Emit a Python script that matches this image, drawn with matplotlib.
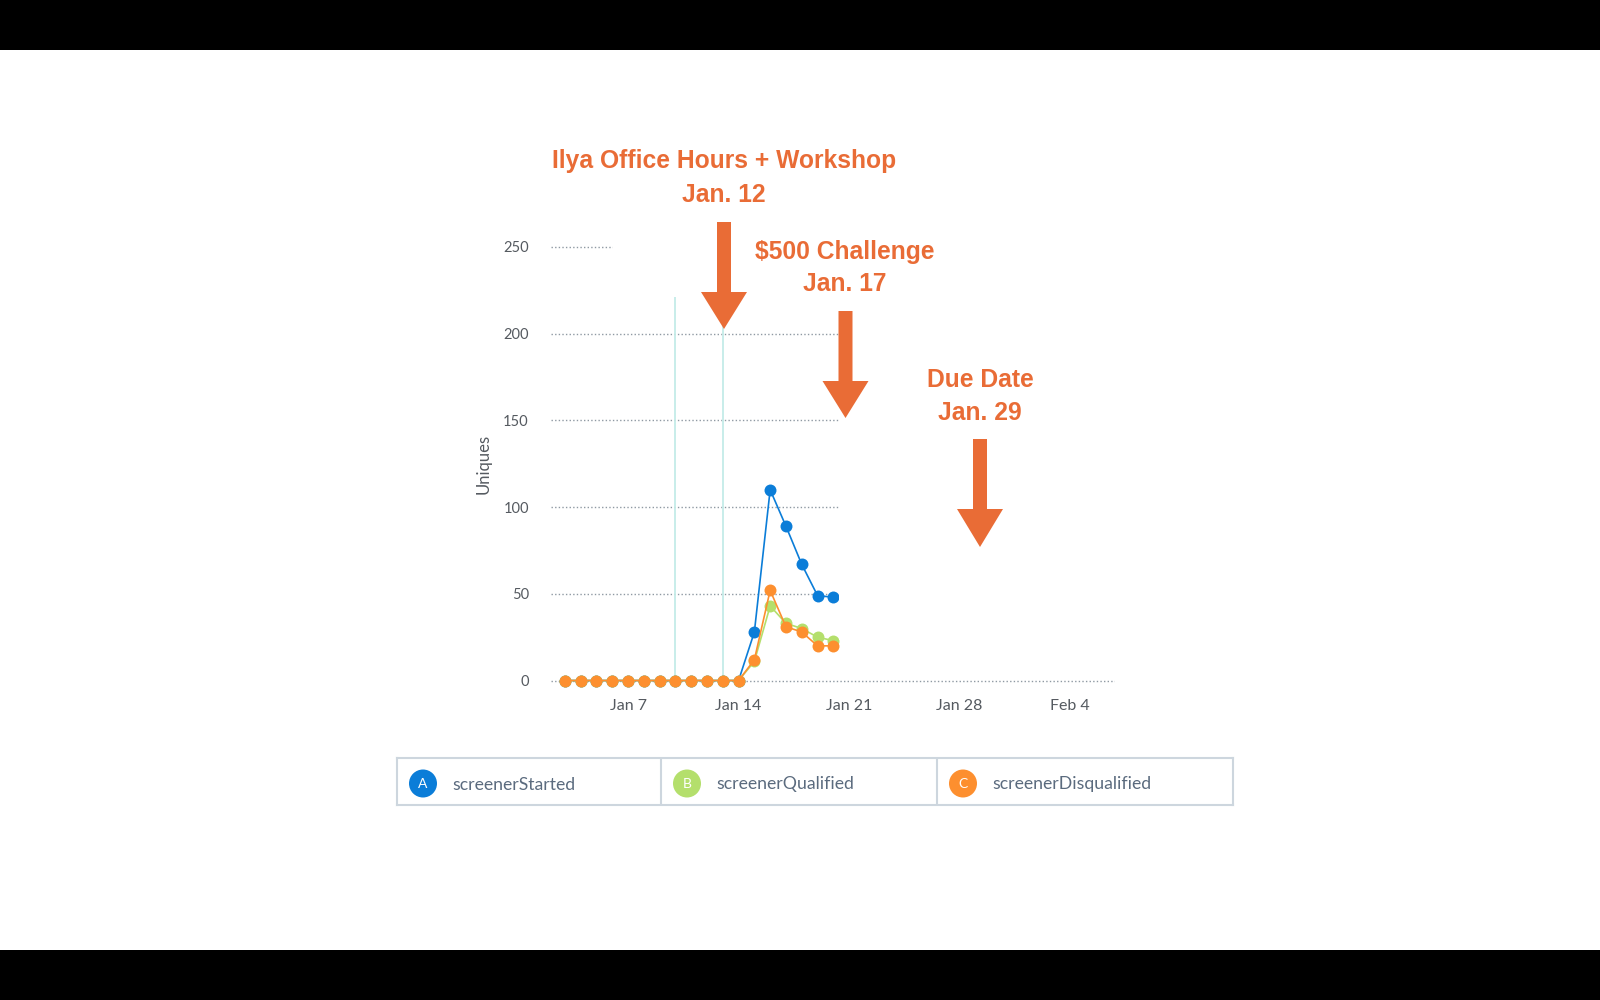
import matplotlib
matplotlib.use("Agg")
import matplotlib.pyplot as plt
from matplotlib.patches import Rectangle, Polygon, Circle

###############################################################################
# DATA
###############################################################################

# day of January for every point (Jan 3 .. Jan 20)
days = [3, 4, 5, 6, 7, 8, 9, 10, 11, 12, 13, 14, 15, 16, 17, 18, 19, 20]

screener_started = [0, 0, 0, 0, 0, 0, 0, 0, 0, 0, 0, 0, 28, 110, 89, 67, 49, 48]
screener_qualified = [0, 0, 0, 0, 0, 0, 0, 0, 0, 0, 0, 0, 11, 43, 33, 30, 25, 23]
screener_disqualified = [0, 0, 0, 0, 0, 0, 0, 0, 0, 0, 0, 0, 12, 52, 31, 28, 20, 20]

series_names = ["screenerStarted", "screenerQualified", "screenerDisqualified"]
series_letters = ["A", "B", "C"]
series_colors = ["#0b7dd8", "#b4df6c", "#fd8f2f"]

event_days = [10, 13]

x_ticks = [7, 14, 21, 28, 35]
x_tick_labels = ["Jan 7", "Jan 14", "Jan 21", "Jan 28", "Feb 4"]
y_ticks = [0, 50, 100, 150, 200, 250]

# callouts: (lines of text, text centre x, text baselines, arrow)
callouts = [
    (["Ilya Office Hours + Workshop", "Jan. 12"], 724, [168, 202],
     dict(x=724, top=222, neck=292, tip=329)),
    (["$500 Challenge", "Jan. 17"], 845, [259, 291],
     dict(x=845.5, top=311, neck=381, tip=418)),
    (["Due Date", "Jan. 29"], 980, [387, 420],
     dict(x=980, top=439, neck=509, tip=547)),
]

ORANGE = "#e96c36"
TICK_COLOR = "#555a60"
GRID_COLOR = "#8f99a3"

###############################################################################
# FIGURE
###############################################################################

fig = plt.figure(figsize=(16, 10), dpi=100)
fig.patch.set_facecolor("white")

# axes box: 1.734 px per unit, 0 at y=680.5 px, small margin so the 0 line is not clipped
ax = fig.add_axes([551 / 1600, 1 - 684 / 1000, 564 / 1600, 440.5 / 1000])
ax.set_xlim(2.12, 37.84)
ax.set_ylim(-2, 252)

for d in event_days:
    ax.axvline(d, ymin=2 / 254, color="#c4ece8", lw=1.3, zorder=1)

ax.set_yticks(y_ticks)
ax.yaxis.grid(True, color=GRID_COLOR, lw=1.0, linestyle=(0, (1, 1.6)))
ax.set_axisbelow(True)
for s in ax.spines.values():
    s.set_visible(False)
ax.tick_params(length=0)
ax.tick_params(axis="y", pad=16, labelsize=10.5, labelcolor=TICK_COLOR)
ax.tick_params(axis="x", pad=11, labelsize=11.5, labelcolor=TICK_COLOR)
ax.set_xticks(x_ticks)
ax.set_xticklabels(x_tick_labels)
for lab in ax.get_xticklabels() + ax.get_yticklabels():
    lab.set_family("Lato")

ax.set_ylabel("Uniques", family="Lato", fontsize=12, color=TICK_COLOR)
ax.yaxis.set_label_coords(-0.105, 0.5)

for vals, col in zip([screener_started, screener_qualified, screener_disqualified],
                     series_colors):
    ax.plot(days, vals, color=col, lw=1.2, marker="o", markersize=8.6,
            markeredgewidth=0, clip_on=False, zorder=3)

###############################################################################
# OVERLAY (pixel coordinates)
###############################################################################

ov = fig.add_axes([0, 0, 1, 1], zorder=5)
ov.set_xlim(0, 1600)
ov.set_ylim(1000, 0)
ov.axis("off")
ov.patch.set_alpha(0)

# black letterbox bands
ov.add_patch(Rectangle((0, 0), 1600, 50, color="black", lw=0))
ov.add_patch(Rectangle((0, 950), 1600, 50, color="black", lw=0))

# white backgrounds of the pasted callouts
ov.add_patch(Rectangle((613, 50), 227, 247, color="white", lw=0))
ov.add_patch(Rectangle((839, 50), 360, 590, color="white", lw=0))

for lines, tx, baselines, arr in callouts:
    for txt, by in zip(lines, baselines):
        ov.text(tx, by, txt, ha="center", va="baseline", color=ORANGE,
                fontsize=17.7, fontweight="bold", family="Liberation Sans")
    x, top, neck, tip = arr["x"], arr["top"], arr["neck"], arr["tip"]
    sw, hw = 7, 23
    ov.add_patch(Polygon([(x - sw, top), (x + sw, top), (x + sw, neck),
                          (x + hw, neck), (x, tip), (x - hw, neck),
                          (x - sw, neck)], closed=True, color=ORANGE, lw=0))

###############################################################################
# LEGEND
###############################################################################

lg = fig.add_axes([397 / 1600, 1 - 805 / 1000, 836 / 1600, 47 / 1000], zorder=6)
lg.set_xlim(0, 836)
lg.set_ylim(0, 47)
lg.set_xticks([])
lg.set_yticks([])
for s in lg.spines.values():
    s.set_color("#cdd6de")
    s.set_linewidth(1.5)

cell_x = [0, 264, 540]
for i, (name, letter, col) in enumerate(zip(series_names, series_letters, series_colors)):
    x0 = cell_x[i]
    if i > 0:
        lg.axvline(x0, color="#cdd6de", lw=1.5)
    lg.add_patch(Circle((x0 + 26, 21.5), 14, color=col, lw=0))
    lg.text(x0 + 26, 21.5, letter, ha="center", va="center", color="white",
            fontsize=10, family="Lato")
    lg.text(x0 + 55, 20.5, name, ha="left", va="center", color="#5b6b7e",
            fontsize=12.7, family="Lato")

fig.savefig("out.png", dpi=100)
